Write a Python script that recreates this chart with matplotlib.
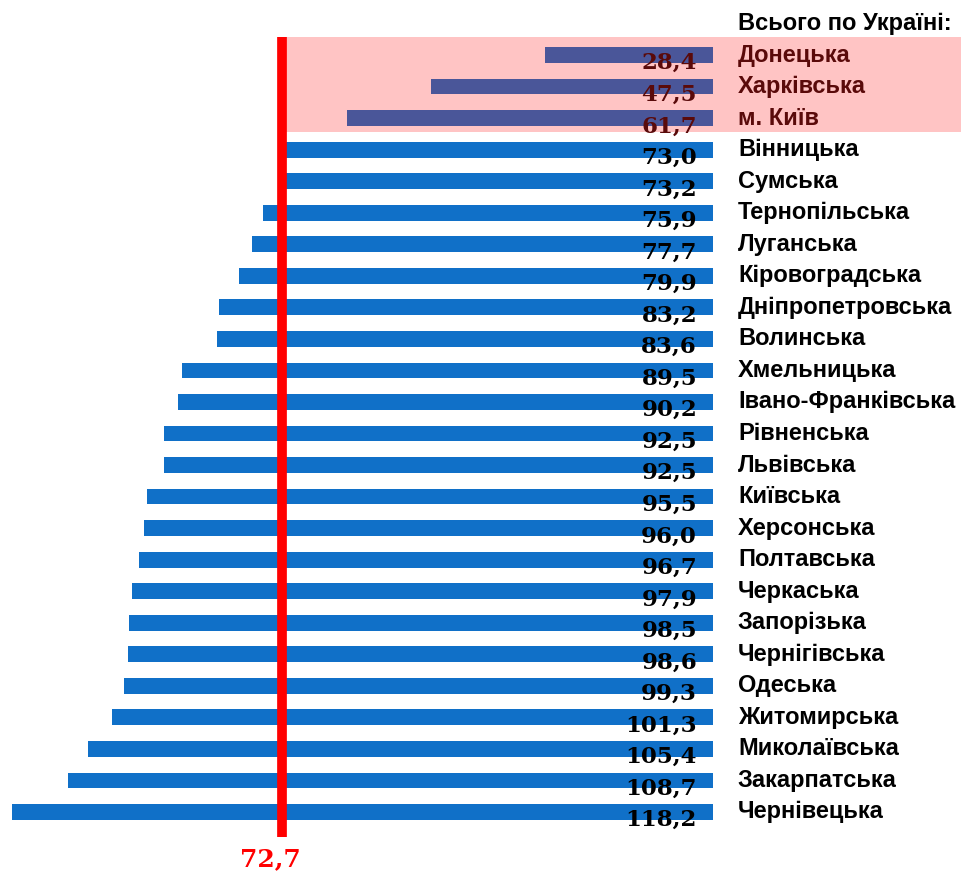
import matplotlib.pyplot as plt
from matplotlib.patches import Rectangle

# Дані: області та значення
regions = ["Донецька", "Харківська", "м. Київ", "Вінницька", "Сумська",
           "Тернопільська", "Луганська", "Кіровоградська", "Дніпропетровська",
           "Волинська", "Хмельницька", "Івано-Франківська", "Рівненська",
           "Львівська", "Київська", "Херсонська", "Полтавська", "Черкаська",
           "Запорізька", "Чернігівська", "Одеська", "Житомирська",
           "Миколаївська", "Закарпатська", "Чернівецька"]
values = [28.4, 47.5, 61.7, 73.0, 73.2, 75.9, 77.7, 79.9, 83.2, 83.6, 89.5,
          90.2, 92.5, 92.5, 95.5, 96.0, 96.7, 97.9, 98.5, 98.6, 99.3, 101.3,
          105.4, 108.7, 118.2]
n_low = 3          # області, виділені рожевим
ukraine = 72.7     # середнє по Україні
header = "Всього по Україні:"

fig = plt.figure(figsize=(9.61, 8.76), dpi=100)
ax = fig.add_axes([0, 0, 1, 1])
ax.set_xlim(120.2, -41.8)
ax.set_ylim(26.03, -1.744)
ax.axis("off")

# рожева підкладка для перших трьох
ax.add_patch(Rectangle((-41.8, -0.57), 73.3 + 41.8, 3.01,
                       facecolor="#ffc4c4", edgecolor="none", zorder=0))

rows = list(range(len(regions)))
colors = ["#4a5699" if i < n_low else "#1070c8" for i in rows]
ax.barh(rows, values, height=0.5, color=colors, zorder=2)

# червона лінія середнього
ax.plot([ukraine, ukraine], [-0.57, 24.8], color="#ff0000", lw=7,
        solid_capstyle="butt", zorder=3)
ax.text(ukraine + 2.0, 25.5, "72,7", color="#ff0000", fontsize=18,
        fontweight="bold", family="DejaVu Serif", ha="center", va="center")

for i, (name, v) in enumerate(zip(regions, values)):
    c = "#5a0a0a" if i < n_low else "black"
    ax.text(2.7, i + 0.26, f"{v:.1f}".replace(".", ","), color=c,
            fontsize=16.5, fontweight="bold", family="DejaVu Serif",
            ha="right", va="center", zorder=4)
    ax.text(-4.2, i, name, color=c, fontsize=17, fontweight="bold",
            family="Liberation Sans", ha="left", va="center", zorder=4)

ax.text(-4.2, -1, header, color="black", fontsize=17, fontweight="bold",
        family="Liberation Sans", ha="left", va="center")

fig.savefig("out.png", dpi=100)
